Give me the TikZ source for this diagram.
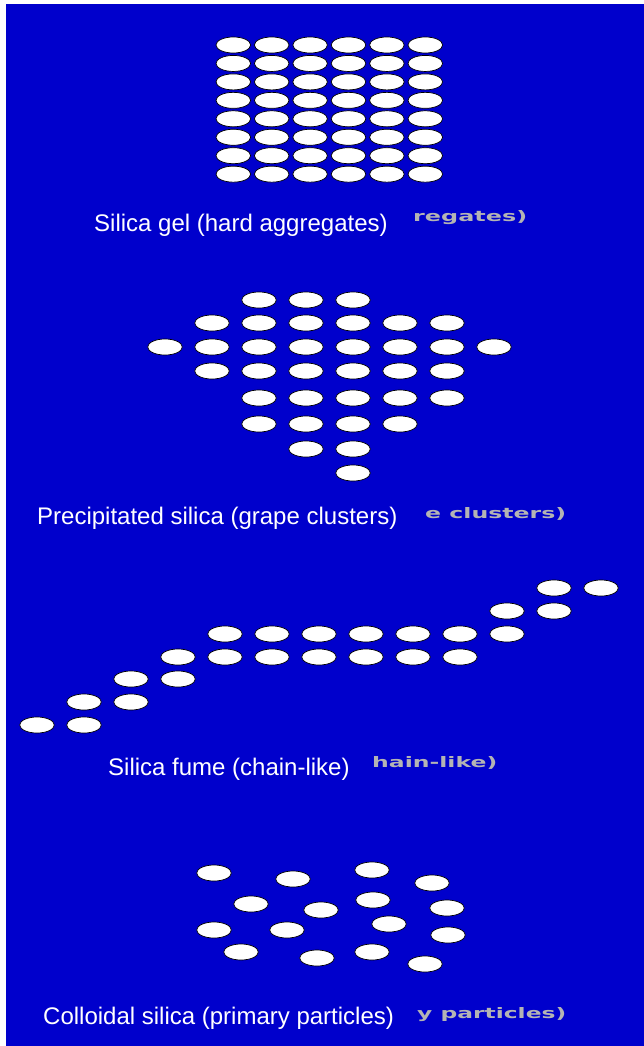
\documentclass[tikz,border=0pt]{standalone}
\usepackage{fontspec}
\setmainfont{Liberation Sans}
\newfontfamily\ghostfont{DejaVu Sans}
\usepackage{graphicx}
\usepackage{tikz}
\definecolor{bgblue}{RGB}{0,0,204}
\definecolor{ghostgray}{RGB}{180,180,180}

\tikzset{
  particle/.style={fill=white, draw=black, line width=0.7pt},
  caption/.style={anchor=base west, inner sep=0pt, text=white, font=\fontsize{24}{28}\selectfont},
  ghost/.style={anchor=base west, inner sep=0pt, text=ghostgray, font=\ghostfont\bfseries}
}
\newcommand{\particleat}[2]{\filldraw[particle] (#1,#2) ellipse [x radius=17.3pt, y radius=8pt];}

\begin{document}
\begin{tikzpicture}[x=1pt, y=-1pt]
\useasboundingbox (0,0) rectangle (644,1046);
\fill[white] (0,0) rectangle (644,1046);
\fill[bgblue] (6,4) rectangle (644,1046);

% Silica gel
\foreach \i in {0,...,5} {
  \foreach \j in {0,...,7} {
    \particleat{233.3+38.4*\i}{45+18.45*\j}
  }
}
\node[caption] (gellabel) at (94,231.5) {Silica gel (hard aggregates)};
\node[ghost] (gelghost) at (413,221.5) {\resizebox{114pt}{11pt}{regates)}};

% Precipitated silica
\foreach \y/\from/\to in {300/2/4, 323/1/6, 347/0/7, 371/1/6, 398/2/6, 424/2/5, 449/3/4, 473/4/4} {
  \foreach \c in {\from,...,\to} {
    \particleat{165+47*\c}{\y}
  }
}
\node[caption] (preclabel) at (37,524.5) {Precipitated silica (grape clusters)};
\node[ghost] (precghost) at (425,518) {\resizebox{141pt}{11pt}{e clusters)}};

% Silica fume
\foreach \y/\from/\to in {588/11/12, 611/10/11, 634/4/10, 657/3/9, 679/2/3, 702/1/2, 725/0/1} {
  \foreach \k in {\from,...,\to} {
    \particleat{37+47*\k}{\y}
  }
}
\node[caption] (fumelabel) at (108,775) {Silica fume (chain-like)};
\node[ghost] (fumeghost) at (372,767) {\resizebox{125pt}{11pt}{hain-like)}};

% Colloidal silica
\foreach \x/\y in {214/873, 293/879, 372/870, 432/883, 251/904, 321/910, 373/900, 447/908,
                   214/930, 287/930, 389/924, 448/935, 241/952, 317/958, 372/952, 425/964} {
  \particleat{\x}{\y}
}
\node[caption] (colllabel) at (43,1024) {Colloidal silica (primary particles)};
\node[ghost] (collghost) at (417,1018.5) {\resizebox{149pt}{11pt}{y particles)}};
\end{tikzpicture}
\end{document}
